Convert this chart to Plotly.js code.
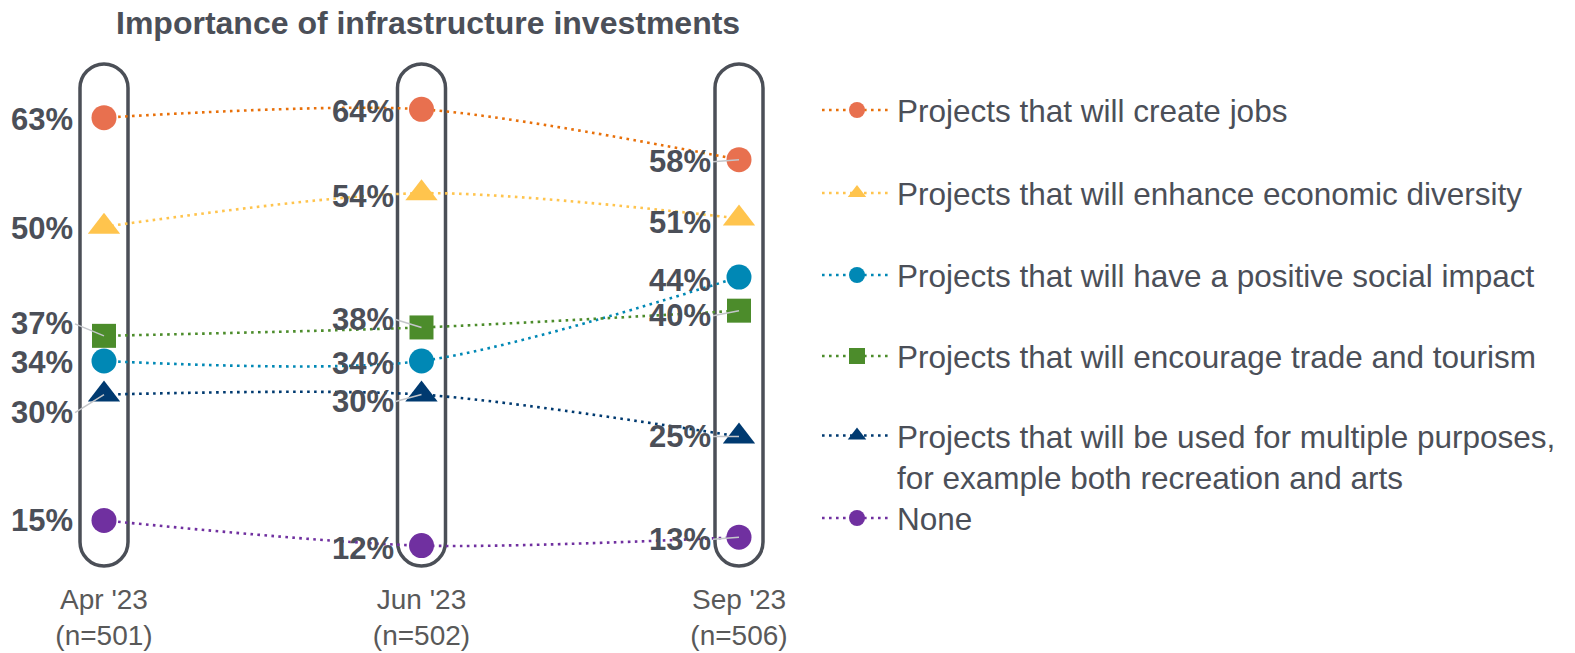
<!DOCTYPE html>
<html>
<head>
<meta charset="utf-8">
<script src="https://cdn.plot.ly/plotly-3.0.1.min.js"></script>
<style>html,body{margin:0;padding:0;background:#fff;}#chart{width:1575px;height:653px;}</style>
</head>
<body>
<div id="chart"></div>
<script>
// ---------- data ----------
const waves = ["Apr '23", "Jun '23", "Sep '23"];
const sampleSizes = ["n=501", "n=502", "n=506"];
const seriesNames = [
  "Projects that will create jobs",
  "Projects that will enhance economic diversity",
  "Projects that will have a positive social impact",
  "Projects that will encourage trade and tourism",
  "Projects that will be used for multiple purposes,<br>for example both recreation and arts",
  "None"
];
const createJobs      = [63, 64, 58];
const economicDiv     = [50, 54, 51];
const socialImpact    = [34, 34, 44];
const tradeTourism    = [37, 38, 40];
const multiPurpose    = [30, 30, 25];
const noneOfThese     = [15, 12, 13];
const seriesValues = [createJobs, economicDiv, socialImpact, tradeTourism, multiPurpose, noneOfThese];

// ---------- styles ----------
const markerColors = ["#E8704F", "#FFC44D", "#0088B5", "#4C8C2B", "#003A70", "#7030A0"];
const lineColors   = ["#E8700A", "#FFC44D", "#0088B5", "#4C8C2B", "#003A70", "#7030A0"];
const symbols      = ["circle", "triangle-up", "circle", "square", "triangle-up", "circle"];
const markerSizes  = [25, 28, 25, 24, 28, 25];
// label vertical offsets (px, +down) and leader flags per series per wave
const labelDy = [[2,2,2],[2,3,4],[1,2,3],[-12,-8,5],[18,7,0],[0,3,2]];
const leader  = [[0,0,1],[0,0,0],[0,0,0],[1,1,1],[1,1,1],[0,0,1]];
const labelDx = [-29, -26, -26];
const legendRowsPx = [110, 193, 275, 356, 456, 518];

const textDark = "#4B4F58";
const FONT = "'Liberation Sans', Arial, Helvetica, sans-serif";

// ---------- geometry ----------
const W = 1575, H = 653;
const M = {l: 50, r: 775, t: 60, b: 73};
const col0 = 104, colUnit = 317.5;
const yRefPx = 117.7, yRefVal = 63, pxPerPct = 8.39;
const plotTop = M.t, plotBot = H - M.b, plotLeft = M.l, plotRight = W - M.r;
const xRange = [(plotLeft - col0) / colUnit, (plotRight - col0) / colUnit];
const yRange = [yRefVal - (plotBot - yRefPx) / pxPerPct, yRefVal + (yRefPx - plotTop) / pxPerPct];
const pxToVal = p => yRefVal - (p - yRefPx) / pxPerPct;
const xIdx = waves.map((w, i) => i);

// ---------- traces ----------
const traces = seriesValues.map((vals, s) => ({
  type: "scatter",
  mode: "lines+markers",
  x: xIdx,
  y: vals,
  name: seriesNames[s],
  legend: s === 0 ? "legend" : "legend" + (s + 1),
  line: {color: lineColors[s], width: 2.6, dash: "2.6px,4.4px", shape: "spline", smoothing: 0.8},
  marker: {color: markerColors[s], symbol: symbols[s], size: markerSizes[s], line: {width: 0}},
  hoverinfo: "skip",
  cliponaxis: false
}));

// ---------- annotations (data labels) ----------
const annotations = [];
seriesValues.forEach((vals, s) => {
  vals.forEach((v, c) => {
    const base = {
      x: c, y: v, xref: "x", yref: "y",
      text: v + "%",
      xanchor: "right", yanchor: "middle",
      font: {family: FONT, size: 31, color: textDark, weight: "bold"}
    };
    if (leader[s][c]) {
      annotations.push(Object.assign(base, {
        showarrow: true, arrowhead: 0, arrowwidth: 1.5, arrowcolor: "#C4C6CA",
        standoff: 0, ax: labelDx[c], ay: labelDy[s][c]
      }));
    } else {
      annotations.push(Object.assign(base, {
        showarrow: false, xshift: labelDx[c], yshift: -labelDy[s][c]
      }));
    }
  });
});

// ---------- shapes (rounded column frames, cubic approximated arcs) ----------
const frameTopPx = 64, frameBotPx = 566, frameR = 24, K = 0.5523;
const shapes = xIdx.map(c => {
  const rx = frameR / colUnit, ry = frameR / pxPerPct;
  const xl = c - rx, xr = c + rx;
  const yTop = pxToVal(frameTopPx), yBot = pxToVal(frameBotPx);
  const yt = yTop - ry, yb = yBot + ry;
  const p = [
    `M ${xl},${yb}`,
    `L ${xl},${yt}`,
    `C ${xl},${yt + K * ry} ${c - K * rx},${yTop} ${c},${yTop}`,
    `C ${c + K * rx},${yTop} ${xr},${yt + K * ry} ${xr},${yt}`,
    `L ${xr},${yb}`,
    `C ${xr},${yb - K * ry} ${c + K * rx},${yBot} ${c},${yBot}`,
    `C ${c - K * rx},${yBot} ${xl},${yb - K * ry} ${xl},${yb}`,
    `Z`
  ].join(" ");
  return {
    type: "path", xref: "x", yref: "y", layer: "below",
    path: p, line: {color: "#4B4F57", width: 3.5}, fillcolor: "rgba(0,0,0,0)"
  };
});

// ---------- layout ----------
const layout = {
  width: W, height: H,
  margin: M,
  paper_bgcolor: "#fff", plot_bgcolor: "#fff",
  font: {family: FONT, color: textDark},
  title: {
    text: "<b>Importance of infrastructure investments</b>",
    x: 116 / W, xref: "container", xanchor: "left",
    y: 1 - 23 / H, yref: "container", yanchor: "middle",
    font: {family: FONT, size: 32, color: textDark}
  },
  xaxis: {
    range: xRange, tickmode: "array", tickvals: xIdx,
    ticktext: waves.map((w, i) => w + "<br>(" + sampleSizes[i] + ")"),
    showgrid: false, zeroline: false, showline: false, ticks: "",
    tickfont: {family: FONT, size: 28, color: "#595959"},
    fixedrange: true
  },
  yaxis: {range: yRange, visible: false, fixedrange: true},
  showlegend: true,
  shapes: shapes,
  annotations: annotations
};
legendRowsPx.forEach((py, s) => {
  const key = s === 0 ? "legend" : "legend" + (s + 1);
  layout[key] = {
    x: (817 - plotLeft) / (plotRight - plotLeft), xanchor: "left",
    y: (plotBot - py) / (plotBot - plotTop), yanchor: "middle",
    bgcolor: "rgba(0,0,0,0)", borderwidth: 0,
    font: {family: FONT, size: 31.5, color: textDark},
    itemwidth: 70, itemsizing: "trace", valign: s === 4 ? "top" : "middle",
    itemclick: false, itemdoubleclick: false
  };
});

Plotly.newPlot("chart", traces, layout, {displayModeBar: false, staticPlot: true});
</script>
</body>
</html>
